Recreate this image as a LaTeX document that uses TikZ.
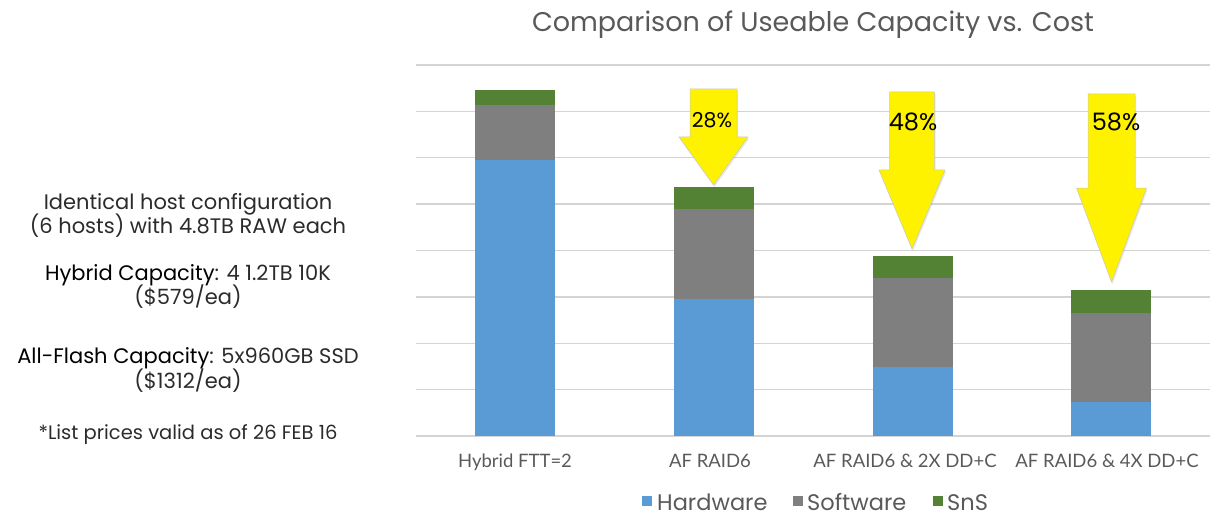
\documentclass[tikz,border=0pt]{standalone}
\usepackage{fontspec}
\setmainfont{Poppins}
\newfontfamily\catfont{Lato}
\usetikzlibrary{shadows}
\definecolor{hwblue}{HTML}{5B9BD5}
\definecolor{swgray}{HTML}{7F7F7F}
\definecolor{snsgreen}{HTML}{548235}
\definecolor{gridgray}{HTML}{D4D4D4}
\definecolor{labelgray}{HTML}{595959}
\definecolor{notegray}{HTML}{2B2B2B}
\tikzstyle{grid}=[draw=gridgray,line width=1.4pt]
\tikzstyle{hw}=[fill=hwblue]
\tikzstyle{sw}=[fill=swgray]
\tikzstyle{sns}=[fill=snsgreen]
\tikzstyle{bigarrow}=[fill=yellow,draw=black!22,line width=.5pt,
              drop shadow={opacity=.18,shadow xshift=1pt,shadow yshift=-2pt}]
\tikzstyle{pct}=[anchor=base,text=black,inner sep=0pt]
\tikzstyle{note}=[anchor=base,text=notegray,inner sep=0pt,
              font=\fontsize{21}{24}\selectfont]
\tikzstyle{cat}=[anchor=base,text=labelgray,inner sep=0pt,
              font=\catfont\fontsize{18.5}{20}\selectfont]
\tikzstyle{legend}=[anchor=base west,text=labelgray,inner sep=0pt,
              text depth=0pt,font=\fontsize{22.5}{24}\selectfont]

\begin{document}
\begin{tikzpicture}[x=1pt,y=-1pt]
  \useasboundingbox (0,0) rectangle (1213,516);

  % title
  \node[anchor=base,text=labelgray,inner sep=0pt,
        font=\fontsize{27}{32}\selectfont] (title) at (813,32)
        {Comparison of Useable Capacity vs. Cost};

  % gridlines
  \foreach \i in {0,...,8}
    \draw[grid] (416,{65+46.375*\i}) -- (1210,{65+46.375*\i});

  % stacked bars: centre / hardware top / software top / SnS top
  \foreach \x/\a/\b/\c in {515/160/105/90, 714/299/209/187,
                           913/367/278/256, 1111/402/313/290} {
    \fill[hw]  (\x-40,436) rectangle (\x+40,\a);
    \fill[sw]  (\x-40,\a)  rectangle (\x+40,\b);
    \fill[sns] (\x-40,\b)  rectangle (\x+40,\c);
  }

  % category labels
  \node[cat] (c1) at (515,467) {Hybrid FTT=2};
  \node[cat] (c2) at (710,467) {AF RAID6};
  \node[cat] (c3) at (905,467) {AF RAID6 \& 2X DD+C};
  \node[cat] (c4) at (1107,467) {AF RAID6 \& 4X DD+C};

  % savings arrows: centre / top / head start / tip / shaft half / head half
  \foreach \x/\t/\h/\p/\s/\w in {713.5/89/137/185/23.5/34.5,
                                 912/92/170/249/22.5/33,
                                 1111.5/94/188/282/23.5/35}
    \path[bigarrow] (\x-\s,\t) -- (\x+\s,\t) -- (\x+\s,\h) -- (\x+\w,\h)
         -- (\x,\p) -- (\x-\w,\h) -- (\x-\s,\h) -- cycle;

  \node[pct,font=\fontsize{20.5}{24}\selectfont] (p28) at (712,128) {28\%};
  \node[pct,font=\fontsize{24}{26}\selectfont] (p48) at (913,130.5) {48\%};
  \node[pct,font=\fontsize{24}{26}\selectfont] (p58) at (1116,130.5) {58\%};

  % configuration notes
  \node[note] (n1) at (188,209) {Identical host configuration};
  \node[note] (n2) at (188,233) {(6 hosts) with 4.8TB RAW each};
  \node[note] (n3) at (188,280) {\textcolor{black}{Hybrid Capacity}: 4 1.2TB 10K};
  \node[note] (n4) at (188,304) {(\$579/ea)};
  \node[note] (n5) at (188,363) {\textcolor{black}{All-Flash Capacity}: 5x960GB SSD};
  \node[note] (n6) at (188,388) {(\$1312/ea)};
  \node[note,font=\fontsize{19.5}{20}\selectfont] (n7) at (188,439)
        {*List prices valid as of 26 FEB 16};

  % legend
  \fill[hw]  (642,496) rectangle (652,506);
  \node[legend] (lhw) at (657,510) {Hardware};
  \fill[sw]  (793,496) rectangle (803,506);
  \node[legend] (lsw) at (807,510) {Software};
  \fill[sns] (933,496) rectangle (943,506);
  \node[legend] (lsns) at (947,510) {SnS};
\end{tikzpicture}
\end{document}
